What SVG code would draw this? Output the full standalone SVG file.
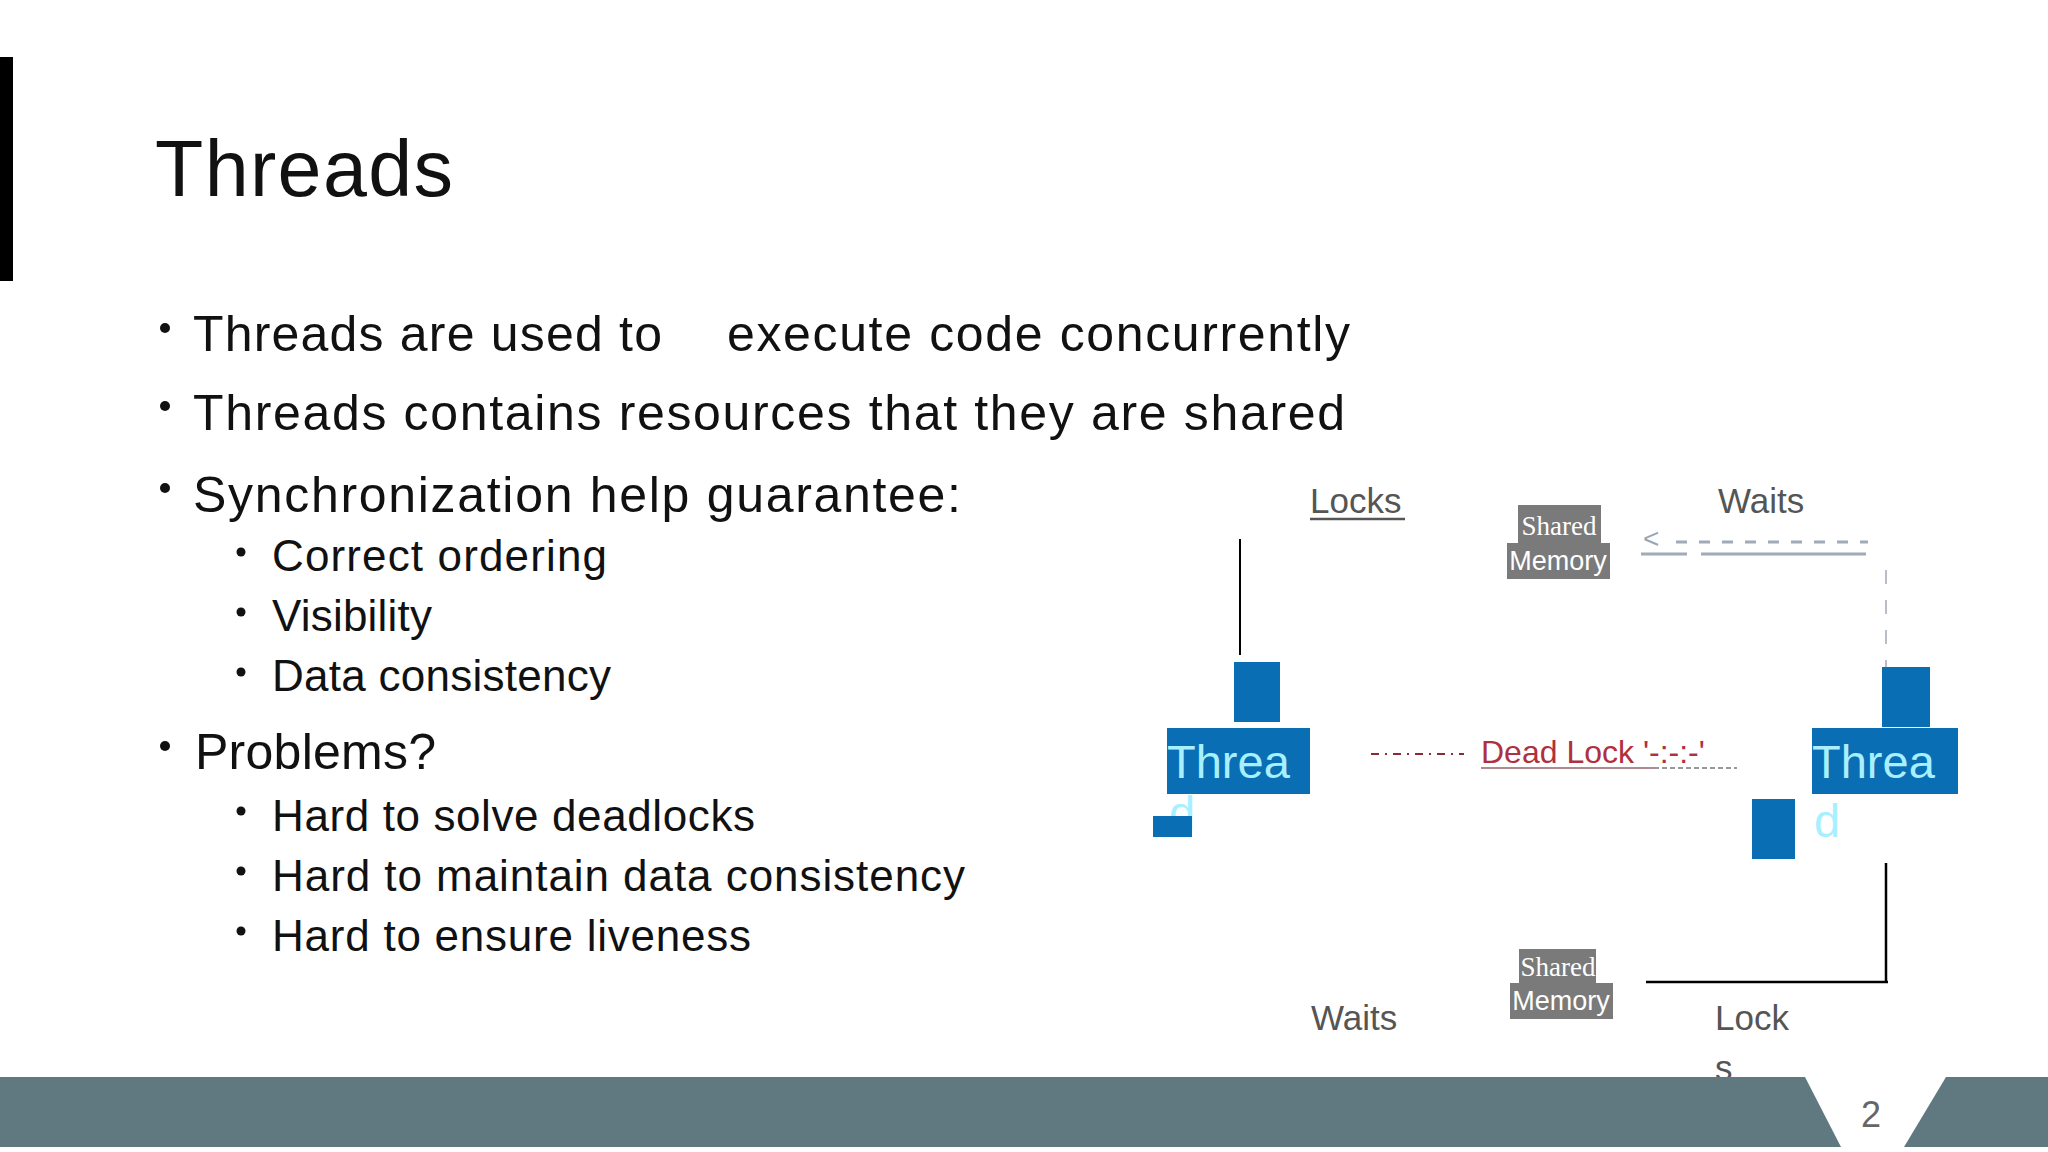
<svg xmlns="http://www.w3.org/2000/svg" width="2048" height="1152" viewBox="0 0 2048 1152">
<style>
.b{font-family:"Liberation Sans",Arial,sans-serif;fill:#111}
.l1{font-size:50px}
.l2{font-size:44px}
.g{font-family:"Liberation Sans",Arial,sans-serif;fill:#555;font-size:35px}
.sm{fill:#7a7a7a}
.smt{fill:#fff;font-size:27px}
.blue{fill:#0a6eb4}
.th{font-family:"Liberation Sans",Arial,sans-serif;fill:#a8f0ff;font-size:47px}
</style>
<rect width="2048" height="1152" fill="#fff"/>
<rect x="0" y="57" width="13" height="224" fill="#000"/>
<text x="155" y="196" class="b" font-size="79" textLength="298" lengthAdjust="spacing">Threads</text>
<g id="bullets">
<circle cx="165" cy="328" r="5" fill="#111"/><text x="193" y="351" class="b l1" textLength="469" lengthAdjust="spacing">Threads are used to</text><text x="727" y="351" class="b l1" textLength="623" lengthAdjust="spacing">execute code concurrently</text>
<circle cx="165" cy="406" r="5" fill="#111"/><text x="193" y="430" class="b l1" textLength="1152" lengthAdjust="spacing">Threads contains resources that they are shared</text>
<circle cx="165" cy="488" r="5" fill="#111"/><text x="193" y="512" class="b l1" textLength="768" lengthAdjust="spacing">Synchronization help guarantee:</text>
<circle cx="241" cy="552" r="4.5" fill="#111"/><text x="272" y="571" class="b l2" textLength="335" lengthAdjust="spacing">Correct ordering</text>
<circle cx="241" cy="612" r="4.5" fill="#111"/><text x="272" y="631" class="b l2" textLength="160" lengthAdjust="spacing">Visibility</text>
<circle cx="241" cy="672" r="4.5" fill="#111"/><text x="272" y="691" class="b l2" textLength="339" lengthAdjust="spacing">Data consistency</text>
<circle cx="165" cy="746" r="5" fill="#111"/><text x="195" y="769" class="b l1" textLength="241" lengthAdjust="spacing">Problems?</text>
<circle cx="241" cy="811" r="4.5" fill="#111"/><text x="272" y="831" class="b l2" textLength="483" lengthAdjust="spacing">Hard to solve deadlocks</text>
<circle cx="241" cy="871" r="4.5" fill="#111"/><text x="272" y="891" class="b l2" textLength="693" lengthAdjust="spacing">Hard to maintain data consistency</text>
<circle cx="241" cy="931" r="4.5" fill="#111"/><text x="272" y="951" class="b l2" textLength="479" lengthAdjust="spacing">Hard to ensure liveness</text>
</g>
<g id="connectors" fill="none">
<line x1="1240" y1="539" x2="1240" y2="655" stroke="#000" stroke-width="2"/>
<text x="1643" y="548" font-family="Liberation Sans,sans-serif" font-size="28" fill="#9aa6b8">&lt;</text>
<line x1="1676" y1="542" x2="1868" y2="542" stroke="#a0aab8" stroke-width="3" stroke-dasharray="11,12"/>
<line x1="1641" y1="554" x2="1687" y2="554" stroke="#a0aab8" stroke-width="3"/>
<line x1="1701" y1="554" x2="1866" y2="554" stroke="#a0aab8" stroke-width="3"/>
<line x1="1886" y1="570" x2="1886" y2="667" stroke="#b8bec8" stroke-width="2" stroke-dasharray="14,16"/>
<line x1="1371" y1="754" x2="1464" y2="754" stroke="#8a2a35" stroke-width="2" stroke-dasharray="8,6,2,6"/>
<line x1="1654" y1="768" x2="1737" y2="768" stroke="#999" stroke-width="2" stroke-dasharray="5,3"/>
<line x1="1886" y1="863" x2="1886" y2="982" stroke="#000" stroke-width="2.5"/>
<line x1="1646" y1="982" x2="1888" y2="982" stroke="#000" stroke-width="2.5"/>
</g>
<g id="locks-top"><text x="1310" y="513" class="g">Locks</text><line x1="1310" y1="519" x2="1405" y2="519" stroke="#555" stroke-width="2.5"/></g>
<g id="waits-top"><text x="1718" y="513" class="g">Waits</text></g>
<g id="shared-top">
<rect x="1518" y="505" width="83" height="38" class="sm"/><rect x="1507" y="543" width="103" height="36" class="sm"/>
<text x="1559" y="535" text-anchor="middle" class="smt" font-family="Liberation Serif,serif">Shared</text>
<text x="1558" y="570" text-anchor="middle" class="smt" font-family="Liberation Sans,sans-serif">Memory</text>
</g>
<g id="thread-left">
<rect x="1234" y="662" width="46" height="60" class="blue"/>
<rect x="1167" y="728" width="143" height="66" class="blue"/>
<text x="1167" y="778" class="th">Threa</text>
<text x="1169" y="829" class="th">d</text>
<rect x="1153" y="816" width="39" height="21" class="blue"/>
</g>
<g id="deadlock">
<text x="1481" y="763" font-family="Liberation Sans,sans-serif" font-size="32" fill="#b03040">Dead Lock '-:-:-'</text>
<line x1="1481" y1="768" x2="1654" y2="768" stroke="#b08890" stroke-width="2"/>
</g>
<g id="thread-right">
<rect x="1882" y="667" width="48" height="60" class="blue"/>
<rect x="1812" y="728" width="146" height="66" class="blue"/>
<text x="1812" y="778" class="th">Threa</text>
<text x="1814" y="837" class="th">d</text>
<rect x="1752" y="799" width="43" height="60" class="blue"/>
</g>
<g id="shared-bottom">
<rect x="1519" y="949" width="77" height="34" class="sm"/><rect x="1510" y="983" width="103" height="36" class="sm"/>
<text x="1558" y="976" text-anchor="middle" class="smt" font-family="Liberation Serif,serif">Shared</text>
<text x="1561" y="1010" text-anchor="middle" class="smt" font-family="Liberation Sans,sans-serif">Memory</text>
</g>
<g id="waits-bottom"><text x="1311" y="1030" class="g">Waits</text></g>
<g id="locks-bottom"><text x="1715" y="1030" class="g">Lock</text><text x="1715" y="1080" class="g">s</text></g>
<g id="footer">
<polygon points="0,1077 1805,1077 1841,1147 0,1147" fill="#607880"/>
<polygon points="1946,1077 2048,1077 2048,1147 1904,1147" fill="#607880"/>
<text x="1871" y="1127" text-anchor="middle" font-family="Liberation Sans,sans-serif" font-size="36" fill="#666">2</text>
</g>
</svg>
